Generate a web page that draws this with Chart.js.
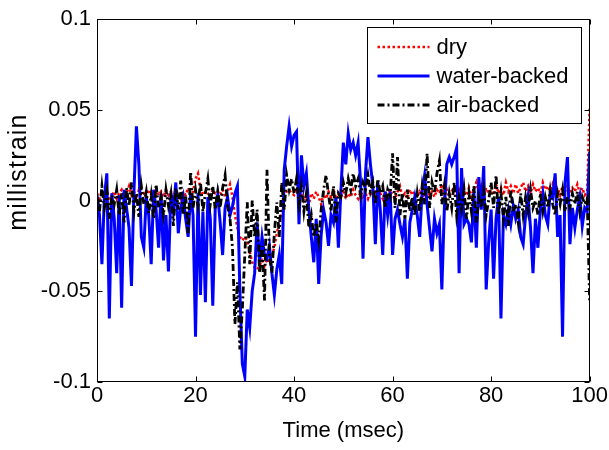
<!DOCTYPE html>
<html>
<head>
<meta charset="utf-8">
<script src="https://cdn.jsdelivr.net/npm/chart.js@4.4.1/dist/chart.umd.min.js"></script>
<style>
  html, body { margin: 0; padding: 0; background: #fff; }
  #wrap { width: 609px; height: 450px; }
</style>
</head>
<body>
<div id="wrap"><canvas id="strainChart" width="609" height="450"></canvas></div>
<script>
// one sample every 0.5 msec, 0 .. 100 msec (201 samples per series)
const sampleStepMs = 0.5;

const dry = [
  0.004, 0.001, 0.005, 0.002, 0.006, 0.000, 0.003, 0.005, 0.001, 0.004,
  0.006, 0.002, 0.004, 0.008, 0.003, 0.005, 0.001, 0.006, 0.003, 0.004,
  0.002, 0.006, 0.004, 0.001, 0.007, 0.003, 0.005, 0.002, 0.006, 0.003,
  0.005, 0.002, 0.006, 0.004, 0.001, 0.005, 0.003, 0.007, 0.003, 0.005,
  0.012, 0.015, 0.006, 0.003, 0.005, 0.004, 0.002, 0.006, 0.004, 0.005,
  0.003, 0.006, 0.002, 0.005, 0.009, 0.002, -0.008, -0.015, -0.020, -0.022,
  -0.020, -0.022, -0.028, -0.034, -0.037, -0.038, -0.036, -0.033, -0.036, -0.032,
  -0.034, -0.030, -0.026, -0.018, -0.012, -0.006, 0.002, 0.005, 0.006, 0.004,
  0.003, 0.006, 0.002, 0.004, 0.000, 0.003, -0.002, 0.004, 0.001, 0.005,
  0.002, -0.002, 0.004, 0.001, 0.005, 0.002, 0.006, 0.001, 0.004, 0.002,
  0.005, 0.001, 0.004, 0.002, 0.006, 0.003, 0.001, 0.005, 0.002, 0.004,
  0.001, 0.005, 0.003, 0.006, 0.002, 0.004, 0.001, 0.005, 0.002, 0.006,
  0.003, 0.001, 0.005, 0.008, 0.002, 0.004, 0.001, 0.006, 0.003, 0.005,
  0.002, 0.005, 0.001, 0.004, 0.007, 0.003, 0.005, 0.002, 0.006, 0.004,
  0.009, 0.003, 0.006, 0.002, 0.005, 0.008, 0.003, 0.006, 0.002, 0.005,
  0.003, 0.007, 0.002, 0.006, 0.010, 0.004, 0.008, 0.003, 0.007, 0.004,
  0.006, 0.003, 0.009, 0.004, 0.007, 0.003, 0.010, 0.005, 0.008, 0.004,
  0.009, 0.004, 0.007, 0.010, 0.005, 0.008, 0.004, 0.009, 0.005, 0.007,
  0.004, 0.010, 0.006, 0.008, 0.004, 0.009, 0.005, 0.007, 0.003, 0.008,
  0.005, 0.008, 0.004, 0.007, 0.005, 0.009, 0.004, 0.007, 0.003, 0.005,
  0.052
];

const waterBacked = [
  0.003, -0.008, -0.035, 0.002, 0.015, -0.065, 0.004, -0.010, -0.040, 0.003,
  -0.059, 0.006, -0.004, -0.015, -0.047, 0.005, 0.041, 0.020, -0.020, -0.026,
  0.002, -0.008, -0.035, 0.006, -0.005, -0.026, 0.004, -0.033, -0.008, -0.039,
  0.004, -0.006, 0.010, -0.018, -0.004, 0.002, -0.010, -0.020, 0.004, -0.008,
  -0.075, 0.004, -0.052, -0.006, -0.056, 0.002, -0.010, -0.058, -0.004, 0.003,
  -0.012, -0.030, -0.004, 0.002, -0.008, -0.003, 0.004, 0.008, -0.050, -0.090,
  -0.097, -0.060, -0.070, -0.050, -0.040, -0.012, -0.034, -0.020, -0.030, -0.032,
  -0.025, -0.040, -0.052, -0.038, -0.030, -0.046, 0.017, 0.030, 0.041, 0.030,
  0.036, 0.038, -0.013, 0.025, 0.008, 0.015, -0.005, -0.020, -0.034, -0.010,
  -0.046, -0.019, -0.005, -0.012, -0.025, -0.008, -0.012, 0.002, -0.026, 0.005,
  0.032, 0.020, 0.037, 0.028, 0.032, 0.025, 0.032, 0.010, -0.032, 0.015,
  0.035, 0.020, 0.008, -0.024, 0.010, -0.005, -0.030, 0.005, -0.008, 0.005,
  -0.030, -0.010, -0.005, -0.013, -0.020, -0.010, -0.043, -0.012, -0.005, 0.002,
  -0.008, -0.020, 0.005, 0.014, -0.002, -0.015, -0.028, -0.010, -0.018, -0.013,
  -0.049, -0.005, 0.020, 0.024, 0.020, 0.024, 0.029, -0.040, 0.018, -0.013,
  -0.010, -0.013, -0.023, 0.005, -0.026, 0.013, -0.005, 0.019, -0.049, -0.023,
  -0.005, -0.043, -0.010, 0.002, -0.065, -0.008, -0.013, -0.005, -0.013, -0.003,
  -0.010, -0.005, -0.020, -0.024, -0.008, 0.002, -0.015, -0.040, -0.010, -0.026,
  -0.005, 0.004, -0.008, -0.013, 0.005, 0.002, 0.015, -0.020, -0.008, -0.075,
  0.010, 0.024, -0.024, -0.004, -0.015, -0.005, 0.002, -0.014, -0.004, -0.006,
  0.027
];

const airBacked = [
  0.002, -0.006, 0.008, -0.004, 0.005, -0.010, 0.003, -0.002, 0.006, -0.008,
  0.004, -0.012, 0.007, -0.003, 0.010, -0.006, 0.004, -0.009, 0.008, -0.002,
  0.005, -0.007, 0.003, -0.010, 0.009, -0.004, 0.002, -0.008, 0.006, -0.003,
  0.004, -0.014, 0.007, -0.005, 0.011, -0.008, 0.003, -0.018, 0.016, -0.004,
  0.006, -0.003, 0.010, -0.006, 0.004, 0.012, -0.002, 0.008, -0.005, 0.005,
  -0.004, 0.007, 0.014, -0.003, -0.010, -0.026, -0.068, -0.045, -0.082, -0.060,
  -0.030, -0.001, -0.035, 0.000, -0.020, -0.005, -0.040, -0.025, -0.055, 0.017,
  -0.030, -0.040, -0.018, -0.001, -0.020, 0.010, -0.005, 0.014, 0.006, 0.012,
  0.004, 0.012, -0.002, 0.008, -0.006, 0.004, -0.015, -0.008, -0.020, -0.012,
  -0.022, -0.005, 0.006, 0.014, 0.003, -0.006, 0.008, -0.012, 0.004, 0.002,
  0.010, 0.004, 0.012, 0.006, 0.015, 0.008, 0.012, 0.003, 0.010, 0.006,
  0.014, 0.005, 0.010, -0.002, 0.012, 0.004, 0.008, -0.004, 0.006, 0.002,
  0.026, -0.004, 0.024, -0.008, 0.004, -0.010, 0.006, -0.006, 0.002, -0.008,
  0.004, -0.006, 0.008, -0.002, 0.026, -0.004, 0.010, 0.004, 0.015, 0.022,
  -0.002, 0.008, -0.006, 0.004, -0.004, 0.010, -0.008, 0.002, -0.005, 0.006,
  -0.010, 0.004, -0.006, 0.008, -0.012, 0.002, -0.004, 0.006, -0.008, 0.000,
  0.010, -0.004, 0.014, -0.008, 0.004, -0.010, 0.002, -0.014, 0.006, -0.006,
  -0.002, -0.012, 0.004, -0.008, 0.002, -0.006, 0.006, -0.004, 0.000, -0.008,
  0.004, -0.006, 0.002, -0.004, 0.006, -0.002, -0.008, 0.004, -0.002, 0.006,
  -0.006, 0.002, -0.004, 0.004, -0.002, 0.005, -0.006, 0.002, -0.002, 0.001,
  -0.055
];

const seriesLabels = ["dry", "water-backed", "air-backed"];
const xTickValues = [0, 20, 40, 60, 80, 100];
const yTickValues = [-0.1, -0.05, 0, 0.05, 0.1];
const yTickLabels = ["-0.1", "-0.05", "0", "0.05", "0.1"];
const yAxisTitle = "millistrain";

const FONT = { family: "'Liberation Sans', Arial, Helvetica, sans-serif", size: 22 };

function toPoints(arr) {
  return arr.map((v, i) => ({ x: i * sampleStepMs, y: v }));
}

/* ---------- matlab style box, inward ticks, legend, ylabel ---------- */
const matlabBox = {
  id: "matlabBox",
  afterDatasetsDraw(chart) {
    const { ctx, chartArea: a, scales } = chart;
    const L = Math.round(a.left) + 0.5, R = Math.round(a.right) - 0.5;
    const T = Math.round(a.top) + 0.5, B = Math.round(a.bottom) - 0.5;
    const tick = 5;

    ctx.save();
    ctx.strokeStyle = "#000";
    ctx.lineWidth = 1;
    ctx.setLineDash([]);
    ctx.strokeRect(L, T, R - L, B - T);

    ctx.beginPath();
    xTickValues.forEach(v => {
      const px = Math.round(scales.x.getPixelForValue(v)) + 0.5;
      ctx.moveTo(px, B); ctx.lineTo(px, B - tick);
      ctx.moveTo(px, T); ctx.lineTo(px, T + tick);
    });
    yTickValues.forEach(v => {
      const py = Math.round(scales.y.getPixelForValue(v)) + 0.5;
      ctx.moveTo(L, py); ctx.lineTo(L + tick, py);
      ctx.moveTo(R, py); ctx.lineTo(R - tick, py);
    });
    ctx.stroke();

    // legend box, top right inside the axes
    const bw = 214, bh = 96;
    const bx = Math.round(a.right - 9 - bw) + 0.5;
    const by = Math.round(a.top + 8) + 0.5;
    ctx.fillStyle = "#fff";
    ctx.fillRect(bx, by, bw, bh);
    ctx.strokeRect(bx, by, bw, bh);

    const rows = [19, 48.5, 77.5];
    ctx.font = FONT.size + "px " + FONT.family;
    ctx.textBaseline = "middle";
    chart.data.datasets.forEach((ds, r) => {
      const y = Math.round(by + rows[r]);
      ctx.beginPath();
      ctx.strokeStyle = ds.borderColor;
      ctx.lineWidth = ds.borderWidth;
      ctx.setLineDash(ds.borderDash || []);
      ctx.moveTo(bx + 10, y);
      ctx.lineTo(bx + 62, y);
      ctx.stroke();
      ctx.setLineDash([]);
      ctx.fillStyle = "#000";
      ctx.fillText(ds.label, bx + 69, y + 1);
    });

    // y label (sits a bit above the axis middle in the original)
    ctx.translate(19, 172);
    ctx.rotate(-Math.PI / 2);
    ctx.textAlign = "center";
    ctx.font = "25px " + FONT.family;
    ctx.letterSpacing = "1.2px";
    ctx.fillText(yAxisTitle, 0, 0);
    ctx.restore();
  }
};

new Chart(document.getElementById("strainChart"), {
  type: "line",
  data: {
    datasets: [
      {
        label: seriesLabels[0],
        data: toPoints(dry),
        borderColor: "#ff0000",
        borderWidth: 2.5,
        borderDash: [2.5, 2.5],
        order: 3
      },
      {
        label: seriesLabels[1],
        data: toPoints(waterBacked),
        borderColor: "#0000ff",
        borderWidth: 3,
        order: 2
      },
      {
        label: seriesLabels[2],
        data: toPoints(airBacked),
        borderColor: "#000000",
        borderWidth: 2.8,
        borderDash: [7, 3, 2, 3],
        order: 1
      }
    ]
  },
  options: {
    responsive: false,
    animation: false,
    devicePixelRatio: 1,
    layout: { padding: { top: 15, right: 18, bottom: 0, left: 0 } },
    elements: {
      point: { radius: 0, hoverRadius: 0 },
      line: { tension: 0, fill: false, borderCapStyle: "butt", borderJoinStyle: "miter" }
    },
    plugins: {
      legend: { display: false },
      tooltip: { enabled: false }
    },
    scales: {
      x: {
        type: "linear",
        min: 0,
        max: 100,
        afterBuildTicks: s => { s.ticks = xTickValues.map(v => ({ value: v })); },
        afterFit: s => { s.height = 68; },
        grid: { display: false, drawTicks: false },
        border: { display: false },
        ticks: { font: FONT, color: "#000", padding: 1, maxRotation: 0, autoSkip: false },
        title: {
          display: true,
          text: "Time (msec)",
          font: FONT,
          color: "#000",
          padding: { top: 0, bottom: 6 }
        }
      },
      y: {
        type: "linear",
        min: -0.1,
        max: 0.1,
        afterBuildTicks: s => { s.ticks = yTickValues.map(v => ({ value: v })); },
        afterFit: s => { s.width = 97; },
        grid: { display: false, drawTicks: false },
        border: { display: false },
        ticks: {
          font: FONT,
          color: "#000",
          padding: 6,
          autoSkip: false,
          callback: v => {
            const i = yTickValues.findIndex(t => Math.abs(t - v) < 1e-9);
            return i >= 0 ? yTickLabels[i] : "";
          }
        },
        title: { display: false }
      }
    }
  },
  plugins: [matlabBox]
});
</script>
</body>
</html>
